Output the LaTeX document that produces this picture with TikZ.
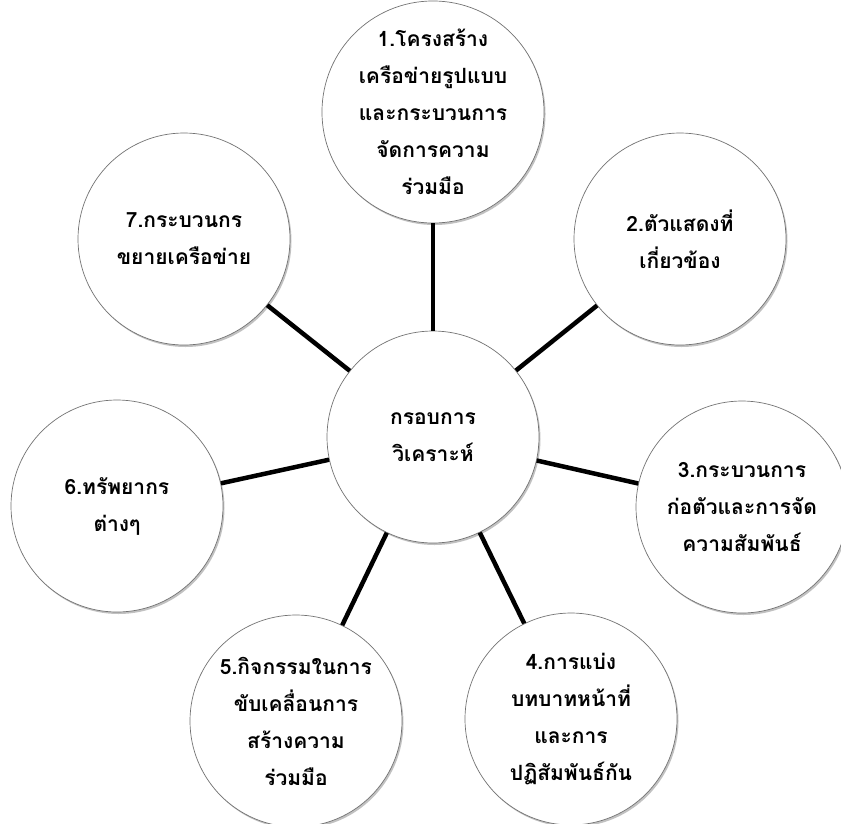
\documentclass[tikz,border=0pt]{standalone}
\usepackage{fontspec}
\newfontfamily\thaifont[Script=Thai]{Loma}
\usetikzlibrary{shadows}
\begin{document}
\begin{tikzpicture}[x=1pt,y=-1pt,
  bub/.style={circle, draw=black!55, line width=0.7pt, fill=white,
    minimum size=212pt, inner sep=0pt, align=center,
    font=\thaifont\bfseries\fontsize{21}{37}\selectfont,
    drop shadow={shadow xshift=1.5pt, shadow yshift=-2pt, opacity=0.4, fill=black!60}},
  link/.style={line width=4.5pt, black}]
\useasboundingbox (0,0) rectangle (841,823);
\clip (0,0) rectangle (841,823);
\fill[white] (0,0) rectangle (841,823);
\node[bub] (c) at (433,437) {กรอบการ\\วิเคราะห์};
\node[bub] (n1) at (433,112) {1.โครงสร้าง\\เครือข่ายรูปแบบ\\และกระบวนการ\\จัดการความ\\ร่วมมือ};
\node[bub] (n2) at (680,239) {2.ตัวแสดงที่\\เกี่ยวข้อง};
\node[bub] (n3) at (742,507) {3.กระบวนการ\\ก่อตัวและการจัด\\ความสัมพันธ์};
\node[bub] (n4) at (571,719) {4.การแบ่ง\\บทบาทหน้าที่\\และการ\\ปฏิสัมพันธ์กัน};
\node[bub] (n5) at (296,721) {5.กิจกรรมในการ\\ขับเคลื่อนการ\\สร้างความ\\ร่วมมือ};
\node[bub] (n6) at (117,506) {6.ทรัพยากร\\ต่างๆ};
\node[bub] (n7) at (184,239) {7.กระบวนกร\\ขยายเครือข่าย};
\foreach \n in {n1,n2,n3,n4,n5,n6,n7}
  \draw[link] (c) -- (\n);
\end{tikzpicture}
\end{document}
